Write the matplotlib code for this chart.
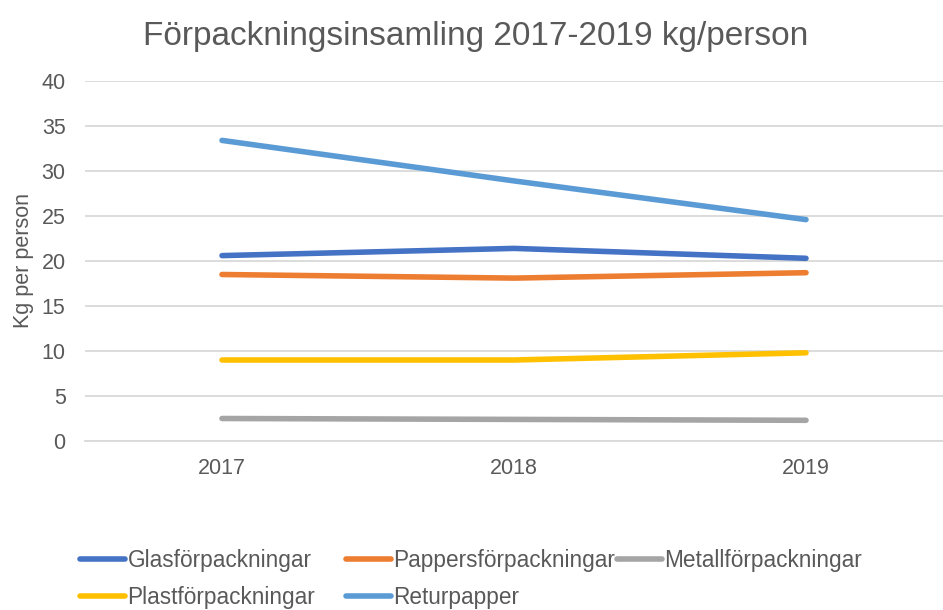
import matplotlib
matplotlib.use("Agg")
import matplotlib.pyplot as plt

plt.rcParams['font.family'] = ['Liberation Sans', 'DejaVu Sans']

years = ["2017", "2018", "2019"]
glas = [20.6, 21.4, 20.3]
papper = [18.5, 18.1, 18.7]
metall = [2.5, 2.4, 2.3]
plast = [9.0, 9.0, 9.8]
retur = [33.4, 28.9, 24.6]

series = [
    ("Glasförpackningar", glas, "#4472C4"),
    ("Pappersförpackningar", papper, "#ED7D31"),
    ("Metallförpackningar", metall, "#A5A5A5"),
    ("Plastförpackningar", plast, "#FFC000"),
    ("Returpapper", retur, "#5B9BD5"),
]

W, H = 943, 610
fig = plt.figure(figsize=(W / 100, H / 100), dpi=100)
left, right, top, bottom = 85, 943, 81, 441
ax = fig.add_axes([left / W, 1 - bottom / H, (right - left) / W, (bottom - top) / H])

x = list(range(len(years)))
lines = {}
for name, vals, col in series:
    ln, = ax.plot(x, vals, color=col, lw=4, solid_capstyle='round', label=name)
    lines[name] = ln

ax.set_ylim(0, 40)
ax.set_yticks(range(0, 41, 5))
px = 292.0
ax.set_xlim(-(222 - left) / px, 2 + (right - 806) / px)
ax.set_xticks(x)
ax.set_xticklabels(years)
ax.yaxis.grid(True, color="#D9D9D9", lw=1.3)
ax.set_axisbelow(True)
for s in ["top", "right", "left"]:
    ax.spines[s].set_visible(False)
ax.spines["bottom"].set_color("#D9D9D9")
ax.spines["bottom"].set_linewidth(1.3)
ax.tick_params(axis='both', length=0, labelsize=15.5, colors="#595959")
ax.tick_params(axis='y', pad=14)
ax.tick_params(axis='x', pad=12)
ax.set_ylabel("Kg per person", fontsize=15.5, color="#595959", labelpad=5)

fig.text(476 / W, 1 - 36 / H, "Förpackningsinsamling 2017-2019 kg/person",
         ha="center", va="center", fontsize=24, color="#595959")

columns = [
    (80, ["Glasförpackningar", "Plastförpackningar"]),
    (346, ["Pappersförpackningar", "Returpapper"]),
    (617, ["Metallförpackningar"]),
]
for xpos, names in columns:
    leg = fig.legend([lines[n] for n in names], names, ncol=1,
                     loc="upper left", bbox_to_anchor=(xpos / W, 1 - 549 / H),
                     frameon=False, fontsize=16.3, handlelength=2.0, handletextpad=0.1,
                     labelspacing=0.62, borderaxespad=0, borderpad=0)
    for t in leg.get_texts():
        t.set_color("#595959")

fig.savefig("out.png", dpi=100)
